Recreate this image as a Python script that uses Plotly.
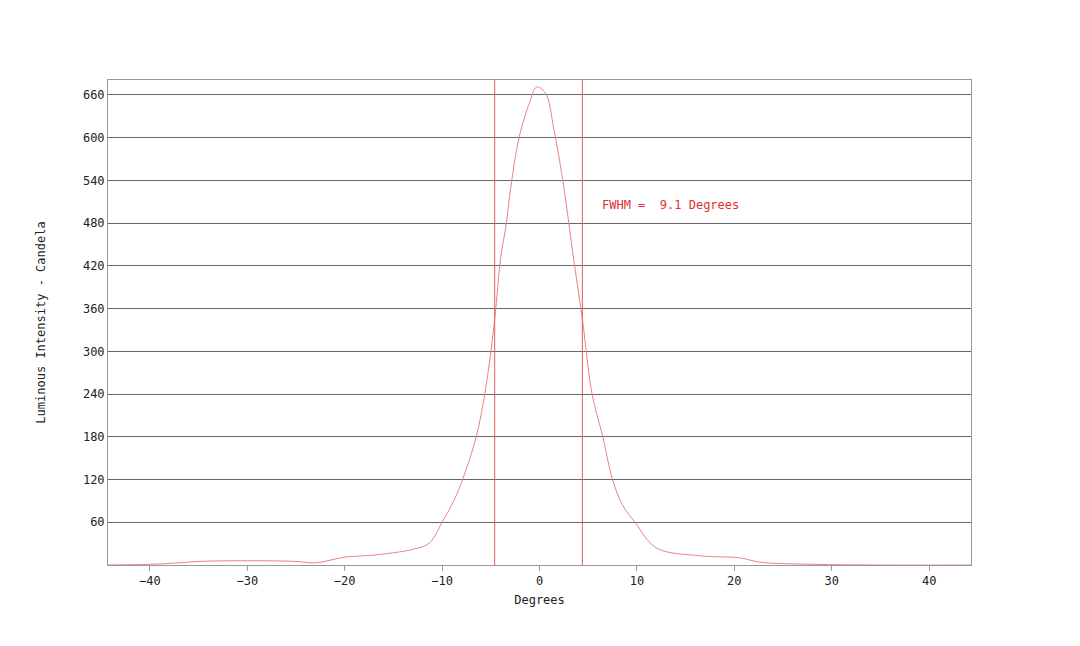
import plotly.graph_objects as go

# luminous intensity profile
degrees = [-44.3, -40, -37, -35, -30, -25, -23, -20, -17, -13, -11.3, -10, -8.8, -7.9, -6.5, -5.5,
           -4.6, -4, -3.4, -3, -2.1, -1, -0.3, 0.6, 1.5, 2.5, 3.5, 4.4, 5.4, 6.5, 7.5, 8.5, 9.8,
           12, 16.4, 20.6, 22.6, 28, 35, 44.3]
candela = [0, 1, 3, 5, 6, 5, 3, 11, 14, 22, 31, 60, 90, 120, 180, 250,
           345, 430, 480, 525, 600, 650, 671, 663, 610, 530, 430, 345, 240, 180, 120, 85, 60,
           24, 13, 10, 4, 1, 0, 0]
fwhm_lines = [-4.6, 4.4]
fwhm_label = "FWHM =  9.1 Degrees"
y_ticks = [60, 120, 180, 240, 300, 360, 420, 480, 540, 600, 660]
x_ticks = [-40, -30, -20, -10, 0, 10, 20, 30, 40]

red = "#e03030"
mono = "DejaVu Sans Mono"

fig = go.Figure()
fig.add_trace(go.Scatter(x=degrees, y=candela, mode="lines", line_shape="spline",
                         line=dict(color="#f08080", width=1), showlegend=False))
for xv in fwhm_lines:
    fig.add_vline(x=xv, line=dict(color="#e06060", width=1))

fig.add_annotation(x=6.2, y=505, text=fwhm_label, showarrow=False, xanchor="left",
                   font=dict(family=mono, size=12, color=red))

fig.update_layout(
    width=1080, height=646,
    margin=dict(l=100, r=117, t=72, b=89),
    paper_bgcolor="white", plot_bgcolor="white",
    font=dict(family=mono, size=12, color="#222"),
)
fig.update_xaxes(range=[-44.3, 44.3], tickvals=x_ticks, showgrid=False, zeroline=False,
                 ticks="outside", ticklen=5, tickcolor="#999",
                 showline=True, linecolor="#999", mirror=True,
                 title=dict(text="Degrees", font=dict(size=12), standoff=8))
fig.update_yaxes(range=[0, 681], tickvals=y_ticks, showgrid=True, gridcolor="#666", gridwidth=1,
                 zeroline=False, ticks="", showline=True, linecolor="#999", mirror=True,
                 title=dict(text="Luminous Intensity - Candela", font=dict(size=12), standoff=34))

fig.write_html("out.html")
